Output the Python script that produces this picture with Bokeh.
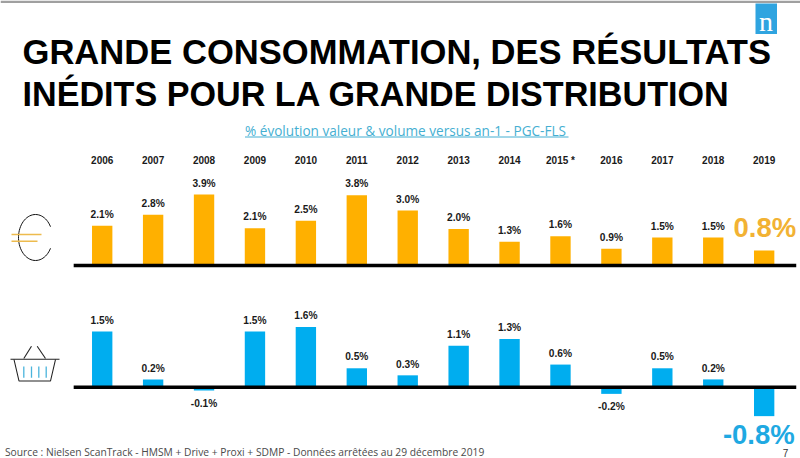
import numpy as np
from bokeh.plotting import figure
from bokeh.models import Range1d, LinearScale, ColumnDataSource
from bokeh.core.properties import value
from bokeh.embed import file_html
from bokeh.resources import INLINE

years = [2006, 2007, 2008, 2009, 2010, 2011, 2012, 2013, 2014, 2015, 2016, 2017, 2018, 2019]
year_labels = ["2006", "2007", "2008", "2009", "2010", "2011", "2012", "2013", "2014", "2015 *", "2016", "2017", "2018", "2019"]
valeur = [2.16, 2.76, 3.86, 2.03, 2.43, 3.82, 2.99, 1.99, 1.29, 1.59, 0.91, 1.52, 1.52, 0.82]
valeur_labels = ["2.1%", "2.8%", "3.9%", "2.1%", "2.5%", "3.8%", "3.0%", "2.0%", "1.3%", "1.6%", "0.9%", "1.5%", "1.5%", ""]
volume = [1.5, 0.21, -0.09, 1.5, 1.62, 0.51, 0.32, 1.12, 1.30, 0.61, -0.18, 0.51, 0.21, -0.78]
volume_labels = ["1.5%", "0.2%", "-0.1%", "1.5%", "1.6%", "0.5%", "0.3%", "1.1%", "1.3%", "0.6%", "-0.2%", "0.5%", "0.2%", ""]

W, H = 800, 458
ORANGE, BLUE = "#FFB000", "#00ADEF"
SANS = value("Liberation Sans")

p = figure(width=W, height=H, output_backend="svg", toolbar_location=None,
           x_range=Range1d(0, W), y_range=Range1d(H, 0), min_border=0,
           outline_line_color=None)
p.axis.visible = False
p.grid.visible = False
p.background_fill_color = "#FFFFFF"
p.border_fill_color = "#FFFFFF"

# scales of the two panels: year -> page, value -> page
X0, DX = 101.7, 50.92
BASE_T, K_T = 265.0, 18.4
BASE_B, K_B = 386.7, 37.1
p.extra_x_ranges["year"] = Range1d(2006 - X0 / DX, 2006 + (W - X0) / DX)
p.extra_y_ranges["val"] = Range1d((BASE_T - H) / K_T, BASE_T / K_T)
p.extra_y_ranges["vol"] = Range1d((BASE_B - H) / K_B, BASE_B / K_B)
p.extra_x_scales["year"] = LinearScale()
p.extra_y_scales["val"] = LinearScale()
p.extra_y_scales["vol"] = LinearScale()


def ptext(x, y, s, size, color="#000000", style="normal", align="left", font=SANS):
    p.text([x], [y], text=[s], text_font=font, text_font_size=f"{size}px", text_color=color,
           text_font_style=style, text_align=align, text_baseline="middle")


# top rule and logo
p.quad(left=[0], right=[W], top=[0], bottom=[2.5], fill_color="#A0A0A0", line_color=None)
p.quad(left=[755], right=[776.5], top=[3], bottom=[33.5], fill_color="#2FA4E0", line_color=None)
ptext(765.5, 21, "n", 28, "#FFFFFF", align="center", font=value("Liberation Serif"))

# titles
ptext(22, 51.5, "GRANDE CONSOMMATION, DES RÉSULTATS", 34.6, style="bold")
ptext(22, 93.5, "INÉDITS POUR LA GRANDE DISTRIBUTION", 34.15, style="bold")
ptext(244.5, 130, "% évolution valeur & volume versus an-1 - PGC-FLS", 13.6, "#45AFD2", font=value("Open Sans"))
p.line([244.5, 568], [136.5, 136.5], line_color="#45AFD2", line_width=1)

# year row
year_src = ColumnDataSource(dict(x=years, y=[159.3] * 14, t=year_labels,
                                 o=[1 if "*" in s else 0 for s in year_labels]))
p.text("x", "y", text="t", y_offset="o", source=year_src, x_range_name="year", text_font=SANS,
       text_font_size="10px", text_font_style="bold", text_align="center", text_baseline="middle",
       text_color="#1A1A1A")

# bars
for vals, labs, rng, col in ((valeur, valeur_labels, "val", ORANGE), (volume, volume_labels, "vol", BLUE)):
    p.vbar(x=years, top=vals, bottom=0, width=0.4, x_range_name="year", y_range_name=rng,
           fill_color=col, line_color=None)
    p.segment(x0=[2005.44], x1=[2019.63], y0=[0], y1=[0], x_range_name="year", y_range_name=rng,
              line_color="#000000", line_width=3.5)
    offs = [12.5 if v < 0 else -11.3 for v in vals]
    src = ColumnDataSource(dict(x=years, y=vals, t=labs, o=offs))
    p.text("x", "y", text="t", y_offset="o", source=src, x_range_name="year", y_range_name=rng,
           text_font=SANS, text_font_size="10.2px", text_font_style="bold", text_align="center",
           text_baseline="middle", text_color="#1A1A1A")

# emphasised 2019 values
ptext(764.3, 226.5, "0.8%", 27.5, "#F2B233", "bold", "center")
ptext(758.3, 434, "-0.8%", 27.5, "#1FA9E2", "bold", "center")

# euro icon
t = np.radians(np.linspace(28, 332, 60))
p.line(35 + 17 * np.cos(t), 237 - 23 * np.sin(t), line_color="#111111", line_width=1)
p.multi_line([[11, 41], [11, 37]], [[234, 234], [240.7, 240.7]], line_color="#EDBB4E", line_width=1.6)

# basket icon
p.multi_line([[10, 59], [13.5, 18.5, 50, 55], [23.3, 31], [45, 36.7]],
             [[358.7, 358.7], [359, 380.5, 380.5, 359], [358, 345.7], [358, 345.7]],
             line_color="#222222", line_width=1.1)
p.segment(x0=[23.3, 31, 38.3, 45.7], x1=[23.3, 31, 38.3, 45.7], y0=[366] * 4, y1=[377.3] * 4,
          line_color="#4BB4DC", line_width=1.3)

# footer
ptext(4.5, 451.5, "Source : Nielsen ScanTrack - HMSM + Drive + Proxi + SDMP - Données arrêtées au 29 décembre 2019",
      10.25, "#4A4A4A", font=value("Open Sans"))
ptext(785, 452, "7", 10, "#333333", align="center")

open("out.html", "w").write(file_html(p, INLINE))
